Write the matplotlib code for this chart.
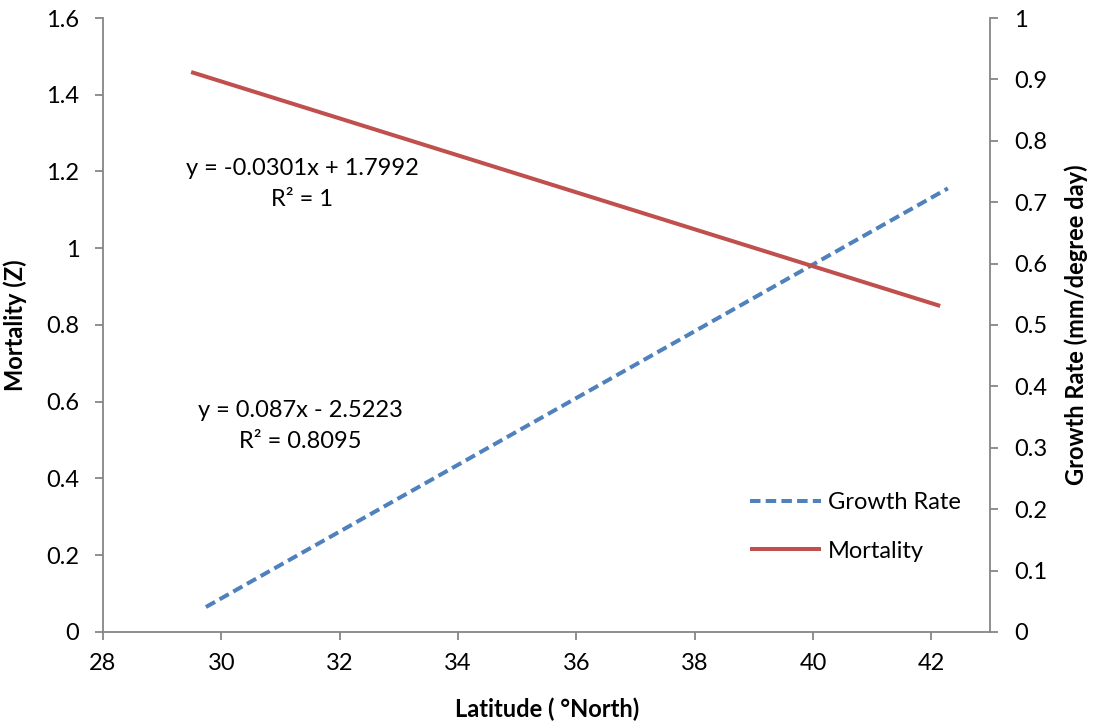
import matplotlib
matplotlib.use("Agg")
import matplotlib.pyplot as plt

# trendline ends
growth_lat = [29.74, 42.28]
growth_rate = [0.065, 1.156]
mort_lat = [29.49, 42.15]
mortality = [0.912, 0.531]

left_ticks = [0, 0.2, 0.4, 0.6, 0.8, 1, 1.2, 1.4, 1.6]
left_labels = ["0", "0.2", "0.4", "0.6", "0.8", "1", "1.2", "1.4", "1.6"]
right_ticks = [0, 0.1, 0.2, 0.3, 0.4, 0.5, 0.6, 0.7, 0.8, 0.9, 1]
right_labels = ["0", "0.1", "0.2", "0.3", "0.4", "0.5", "0.6", "0.7", "0.8", "0.9", "1"]
x_ticks = [28, 30, 32, 34, 36, 38, 40, 42]

BLUE = "#4F81BD"
RED = "#C0504D"
GREY = "#868686"
FS = 17

plt.rcParams["font.family"] = ["Lato", "DejaVu Sans"]
plt.rcParams["font.size"] = FS

fig = plt.figure(figsize=(10.93, 7.23), dpi=100)
ax = fig.add_axes([0.0942, 0.1259, 0.812, 0.8492])
ax2 = ax.twinx()

g, = ax.plot(growth_lat, growth_rate, color=BLUE, lw=2.9, dashes=(2.6, 1.3),
             solid_capstyle="butt", label="Growth Rate")
m, = ax2.plot(mort_lat, mortality, color=RED, lw=2.9, solid_capstyle="butt",
              label="Mortality")

ax.set_xlim(28, 43)
ax.set_ylim(0, 1.6)
ax2.set_ylim(0, 1)
ax.set_xticks(x_ticks)
ax.set_yticks(left_ticks)
ax.set_yticklabels(left_labels)
ax2.set_yticks(right_ticks)
ax2.set_yticklabels(right_labels)

for a in (ax, ax2):
    a.spines["top"].set_visible(False)
    for s in a.spines.values():
        s.set_color(GREY)
        s.set_linewidth(1.3)
ax.spines["right"].set_visible(False)
ax2.spines["left"].set_visible(False)
ax2.spines["bottom"].set_visible(False)

ax.tick_params(axis="both", direction="out", length=6, width=1.3, color=GREY,
               labelsize=FS)
ax.tick_params(axis="y", pad=11)
ax.tick_params(axis="x", pad=9)
ax2.tick_params(axis="y", direction="out", length=6, width=1.3, color=GREY,
                labelsize=FS, pad=11)

ax.set_xlabel("Latitude ( °North)", fontweight="bold", fontsize=FS, labelpad=17)
ax.set_ylabel("Mortality (Z)", fontweight="bold", fontsize=FS, labelpad=14)
ax2.set_ylabel("Growth Rate (mm/degree day)", fontweight="bold", fontsize=FS,
               labelpad=12)

ax.text(31.37, 1.167, "y = -0.0301x + 1.7992\nR² = 1", ha="center", va="center",
        multialignment="center", fontsize=FS, linespacing=1.6)
ax.text(31.33, 0.537, "y = 0.087x - 2.5223\nR² = 0.8095", ha="center", va="center",
        multialignment="center", fontsize=FS, linespacing=1.6)

fig.legend(handles=[g, m], loc="center left", bbox_to_anchor=(0.667, 0.271),
           frameon=False, fontsize=FS, handlelength=3.0, handletextpad=0.3,
           labelspacing=1.15)

fig.savefig("out.png", dpi=100)
